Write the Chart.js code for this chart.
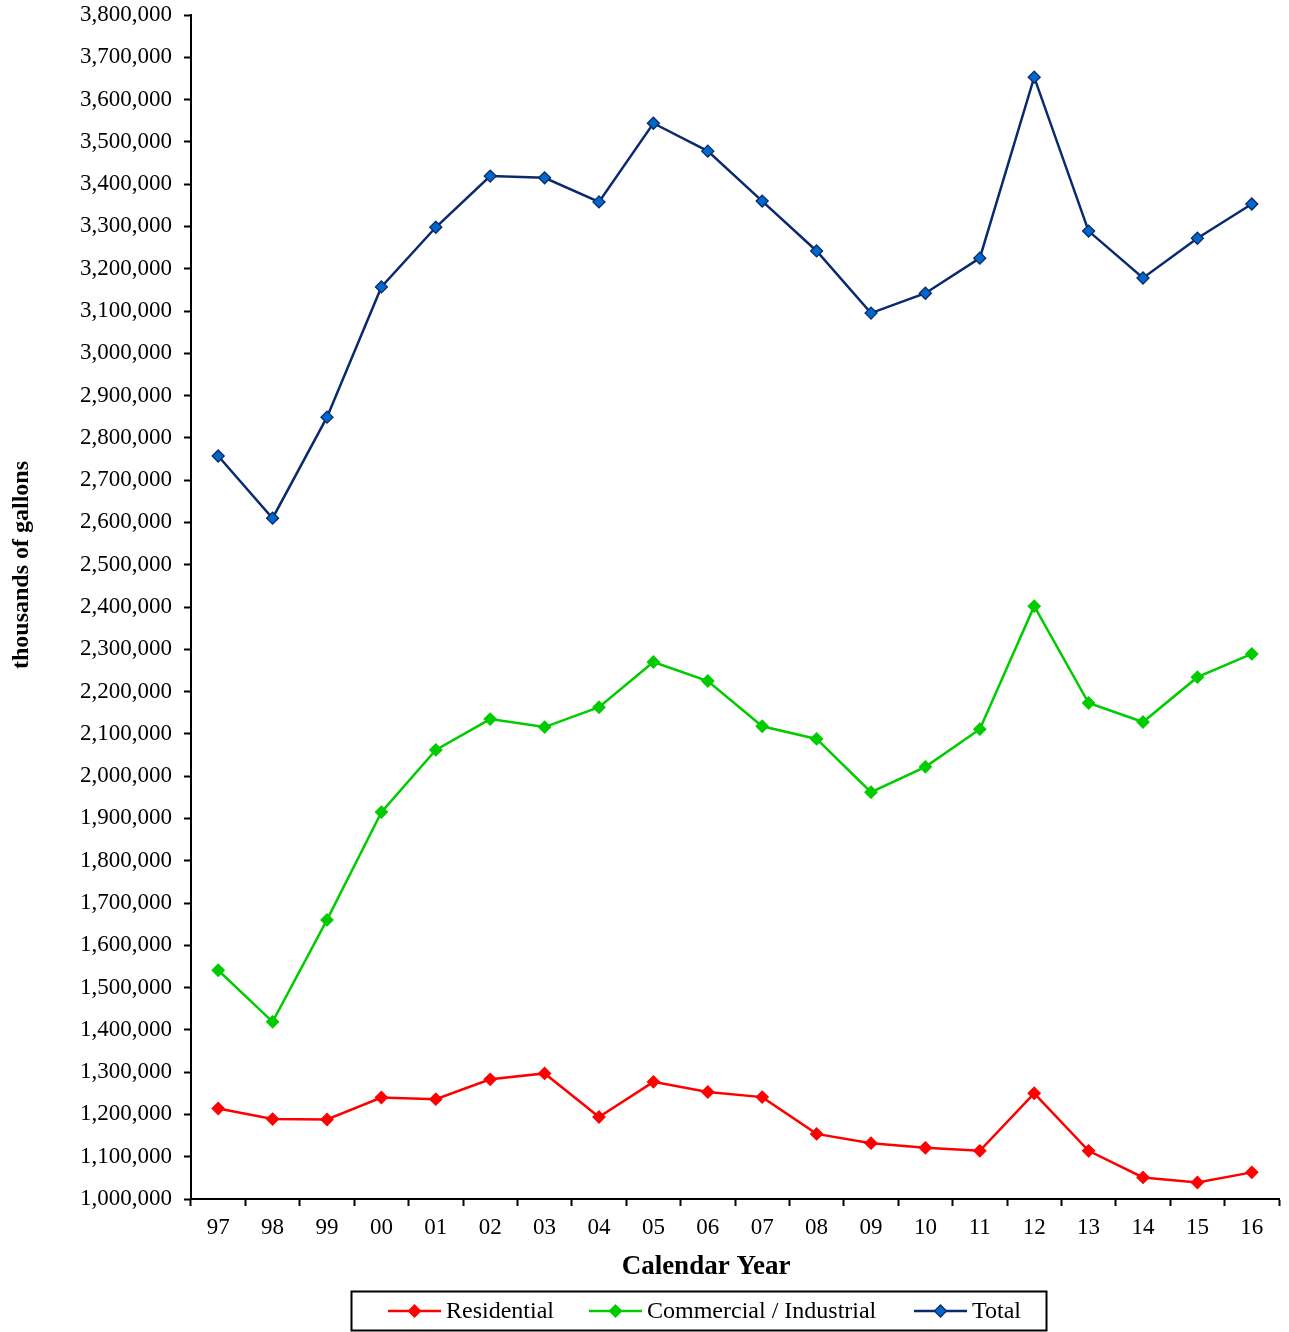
<!DOCTYPE html>
<html>
<head>
<meta charset="utf-8">
<script src="https://cdn.jsdelivr.net/npm/chart.js@4/dist/chart.umd.min.js"></script>
<style>
  html, body { margin: 0; padding: 0; background: #ffffff; }
  #wrap { width: 1289px; height: 1332px; position: relative; }
</style>
</head>
<body>
<div id="wrap"><canvas id="c" width="1289" height="1332"></canvas></div>
<script>
// Calendar years (two-digit labels)
const years = ['97','98','99','00','01','02','03','04','05','06','07','08','09','10','11','12','13','14','15','16'];

// Water sales, thousands of gallons
const residential = [1214000,1189000,1188000,1240000,1236000,1283000,1297000,1194000,1277000,1253000,
                     1241000,1154000,1132000,1121000,1114000,1250000,1114000,1051000,1039000,1063000];
const commercialIndustrial = [1541000,1419000,1660000,1915000,2062000,2135000,2116000,2163000,2270000,2225000,
                              2118000,2088000,1962000,2022000,2111000,2402000,2173000,2128000,2234000,2289000];
const total = [2757000,2610000,2849000,3157000,3298000,3419000,3415000,3358000,3544000,3478000,
               3360000,3242000,3095000,3142000,3225000,3653000,3289000,3178000,3272000,3353000];

// Y axis range
const yMin = 1000000;
const yMax = 3800000;
const yStep = 100000;

const seriesNames = ['Residential', 'Commercial / Industrial', 'Total'];

const FONT = '"Liberation Serif", "Times New Roman", serif';

const styles = [
  { line: '#ff0000', fill: '#ff0000', border: '#ff0000' },
  { line: '#00cc00', fill: '#00cc00', border: '#00cc00' },
  { line: '#0a2a6e', fill: '#0068c8', border: '#0a2a6e' }
];

function makeDataset(label, data, s) {
  return {
    label: label,
    data: data,
    borderColor: s.line,
    backgroundColor: s.fill,
    borderWidth: 2.5,
    pointStyle: 'rectRot',
    pointRadius: 6,
    pointHoverRadius: 6,
    pointBackgroundColor: s.fill,
    pointBorderColor: s.border,
    pointBorderWidth: 1.3,
    tension: 0,
    fill: false
  };
}

// Axis titles and boxed legend
const decorations = {
  id: 'decorations',
  afterDraw(chart) {
    const ctx = chart.ctx;
    ctx.save();
    ctx.fillStyle = '#000';
    ctx.textAlign = 'center';
    ctx.textBaseline = 'middle';

    // Y axis title
    ctx.save();
    ctx.translate(22, 565);
    ctx.rotate(-Math.PI / 2);
    ctx.font = 'bold 24px ' + FONT;
    ctx.fillText('thousands of gallons', 0, 0);
    ctx.restore();

    // X axis title
    ctx.font = 'bold 27px ' + FONT;
    ctx.fillText('Calendar Year', 706, 1267);

    // Legend box
    const box = { x: 351.5, y: 1291.5, w: 695, h: 39 };
    ctx.strokeStyle = '#000';
    ctx.lineWidth = 2;
    ctx.strokeRect(box.x, box.y, box.w, box.h);

    const cy = 1311;
    const items = [
      { x0: 388, x1: 441, tx: 446 },
      { x0: 589, x1: 642, tx: 647 },
      { x0: 914, x1: 967, tx: 972 }
    ];
    ctx.font = '24px ' + FONT;
    ctx.textAlign = 'left';
    items.forEach((it, i) => {
      const s = styles[i];
      ctx.strokeStyle = s.line;
      ctx.lineWidth = 2.5;
      ctx.beginPath();
      ctx.moveTo(it.x0, cy);
      ctx.lineTo(it.x1, cy);
      ctx.stroke();
      const mx = (it.x0 + it.x1) / 2, r = 6;
      ctx.beginPath();
      ctx.moveTo(mx, cy - r);
      ctx.lineTo(mx + r, cy);
      ctx.lineTo(mx, cy + r);
      ctx.lineTo(mx - r, cy);
      ctx.closePath();
      ctx.fillStyle = s.fill;
      ctx.fill();
      ctx.strokeStyle = s.border;
      ctx.lineWidth = 1.3;
      ctx.stroke();
      ctx.fillStyle = '#000';
      ctx.fillText(seriesNames[i], it.tx, cy + 1);
    });
    ctx.restore();
  }
};

new Chart(document.getElementById('c'), {
  type: 'line',
  data: {
    labels: years,
    datasets: [
      makeDataset(seriesNames[0], residential, styles[0]),
      makeDataset(seriesNames[1], commercialIndustrial, styles[1]),
      makeDataset(seriesNames[2], total, styles[2])
    ]
  },
  options: {
    responsive: false,
    animation: false,
    devicePixelRatio: 1,
    layout: { padding: { left: 0, right: 10, top: 15, bottom: 93 } },
    plugins: {
      legend: { display: false },
      tooltip: { enabled: false },
      title: { display: false }
    },
    scales: {
      x: {
        offset: true,
        grid: {
          offset: true,
          drawOnChartArea: false,
          drawTicks: true,
          tickLength: 7,
          tickWidth: 2,
          tickColor: '#000'
        },
        border: { display: true, color: '#000', width: 2 },
        ticks: {
          color: '#000',
          font: { family: FONT, size: 23 },
          padding: 8,
          maxRotation: 0,
          autoSkip: false
        },
        afterFit(scale) {
          scale.height = 40;
          scale.paddingLeft = 0;
          scale.paddingRight = 0;
        }
      },
      y: {
        min: yMin,
        max: yMax,
        grid: {
          drawOnChartArea: false,
          drawTicks: true,
          tickLength: 7,
          tickWidth: 2,
          tickColor: '#000'
        },
        border: { display: true, color: '#000', width: 2 },
        ticks: {
          stepSize: yStep,
          color: '#000',
          font: { family: FONT, size: 23 },
          padding: 12,
          callback: (v) => v.toLocaleString('en-US')
        },
        afterFit(scale) {
          scale.width = 191;
          scale.paddingTop = 0;
          scale.paddingBottom = 0;
        }
      }
    }
  },
  plugins: [decorations]
});
</script>
</body>
</html>
